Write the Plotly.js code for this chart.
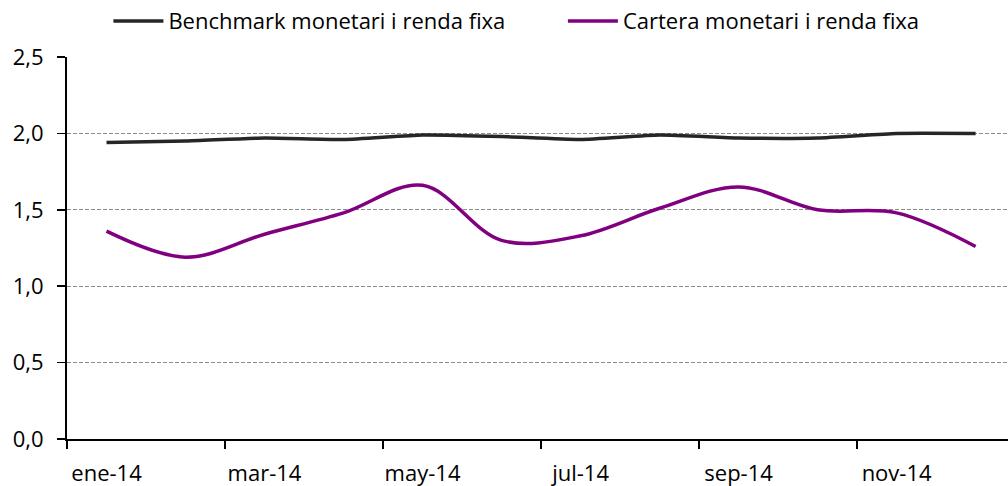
<!DOCTYPE html>
<html>
<head>
<meta charset="utf-8">
<script src="https://cdn.plot.ly/plotly-3.0.1.min.js"></script>
<style>
  html, body { margin: 0; padding: 0; background: white; }
  #chart { width: 1008px; height: 486px; }
</style>
</head>
<body>
<div id="chart"></div>
<script>
// Monthly returns (%), 2014
const months = ['ene-14', 'feb-14', 'mar-14', 'abr-14', 'may-14', 'jun-14',
                'jul-14', 'ago-14', 'sep-14', 'oct-14', 'nov-14', 'dic-14'];
const benchmark = [1.94, 1.95, 1.97, 1.96, 1.99, 1.98, 1.96, 1.99, 1.97, 1.97, 2.00, 2.00];
const cartera   = [1.36, 1.19, 1.34, 1.48, 1.66, 1.30, 1.33, 1.51, 1.65, 1.50, 1.48, 1.26];

const seriesNames = ['Benchmark monetari i renda fixa', 'Cartera monetari i renda fixa'];

const FONT = '"Open Sans", Lato, sans-serif';
const FS = 22;

const traces = [
    {
        x: months, y: benchmark, name: seriesNames[0], legend: 'legend',
        mode: 'lines', line: { color: '#262626', width: 3.5, shape: 'spline', smoothing: 0.5 }
    },
    {
        x: months, y: cartera, name: seriesNames[1], legend: 'legend2',
        mode: 'lines', line: { color: '#800080', width: 3.5, shape: 'spline', smoothing: 1 }
    }
];

// one legend box per series so they sit where the original puts them
const legendBase = {
    orientation: 'h',
    xanchor: 'left',
    y: 1.149, yanchor: 'top',
    itemwidth: 50,
    bgcolor: 'rgba(0,0,0,0)',
    font: { family: FONT, size: FS, color: '#000' }
};

const layout = {
    width: 1008,
    height: 486,
    margin: { l: 67, r: 0, t: 57, b: 47 },
    paper_bgcolor: 'white',
    plot_bgcolor: 'white',
    separators: ',.',
    font: { family: FONT, size: FS, color: '#000' },
    showlegend: true,
    legend: { ...legendBase, x: 0.044 },
    legend2: { ...legendBase, x: 0.527 },
    xaxis: {
        type: 'category',
        range: [-0.5, 11.41],
        tickson: 'boundaries',
        dtick: 2,
        tickangle: 0,
        ticks: 'outside',
        ticklen: 8,
        tickcolor: '#000',
        tickwidth: 1.5,
        ticklabelstandoff: 14,
        showline: true,
        linecolor: '#000',
        linewidth: 2,
        showgrid: false,
        zeroline: false
    },
    yaxis: {
        range: [0, 2.5],
        dtick: 0.5,
        tickformat: '.1f',
        ticks: 'outside',
        ticklen: 8,
        tickcolor: '#000',
        tickwidth: 1.5,
        ticklabelstandoff: 9,
        showline: true,
        linecolor: '#000',
        linewidth: 2,
        showgrid: true,
        gridcolor: '#8c8c8c',
        griddash: '4px,2px',
        gridwidth: 1,
        zeroline: false
    }
};

Plotly.newPlot('chart', traces, layout, { displayModeBar: false, staticPlot: true });
</script>
</body>
</html>
